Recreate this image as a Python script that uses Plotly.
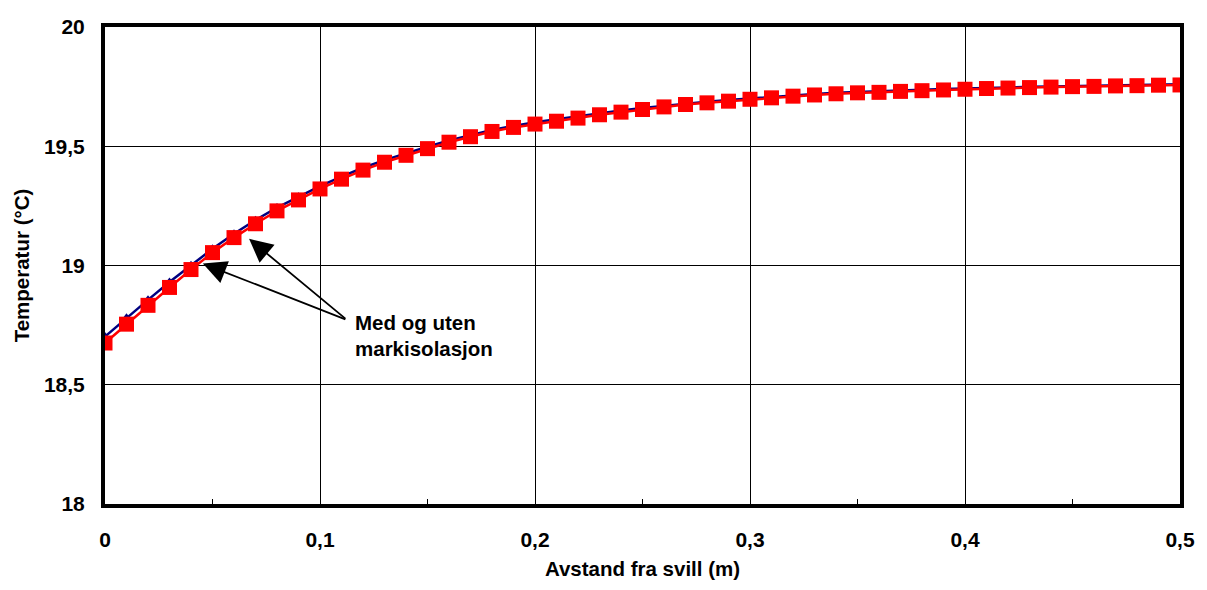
import plotly.graph_objects as go

x_vals = [round(i * 0.01, 2) for i in range(51)]

med_isolasjon = [18.702, 18.781, 18.856, 18.931, 19.001, 19.070, 19.133, 19.190, 19.243, 19.288,
                 19.333, 19.373, 19.410, 19.442, 19.471, 19.498, 19.524, 19.547, 19.568, 19.585,
                 19.601, 19.613, 19.626, 19.639, 19.650, 19.660, 19.670, 19.680, 19.687, 19.694,
                 19.701, 19.707, 19.714, 19.719, 19.724, 19.728, 19.730, 19.734, 19.737, 19.740,
                 19.743, 19.745, 19.747, 19.749, 19.751, 19.753, 19.754, 19.756, 19.757, 19.759,
                 19.760]

uten_isolasjon = [18.675, 18.754, 18.833, 18.908, 18.983, 19.054, 19.117, 19.175, 19.229, 19.275,
                  19.321, 19.362, 19.400, 19.433, 19.462, 19.490, 19.517, 19.540, 19.562, 19.579,
                  19.593, 19.605, 19.618, 19.632, 19.643, 19.654, 19.665, 19.675, 19.682, 19.689,
                  19.697, 19.703, 19.710, 19.715, 19.720, 19.724, 19.726, 19.730, 19.733, 19.736,
                  19.739, 19.742, 19.744, 19.746, 19.748, 19.750, 19.751, 19.753, 19.754, 19.756,
                  19.757]

x_ticks = [0, 0.1, 0.2, 0.3, 0.4, 0.5]
x_ticklabels = ["0", "0,1", "0,2", "0,3", "0,4", "0,5"]
y_ticks = [18, 18.5, 19, 19.5, 20]
y_ticklabels = ["18", "18,5", "19", "19,5", "20"]

annotation_lines = ["Med og uten", "markisolasjon"]

FONT = "Liberation Sans, Arial, sans-serif"

fig = go.Figure()
fig.add_trace(go.Scatter(
    x=x_vals, y=med_isolasjon, mode="lines+markers", name="Med isolasjon",
    line=dict(color="#000080", width=2.5),
    marker=dict(symbol="triangle-up", size=9, color="#000080"),
))
fig.add_trace(go.Scatter(
    x=x_vals, y=uten_isolasjon, mode="lines+markers", name="Uten isolasjon",
    line=dict(color="#FF0000", width=2.5),
    marker=dict(symbol="square", size=15, color="#FF0000"),
))

# white text box behind the label
fig.add_shape(type="rect", xref="x", yref="y", x0=0.1106, x1=0.2028, y0=18.5625, y1=18.842,
              fillcolor="white", line=dict(width=0), layer="below")

for line_text, ly in zip(annotation_lines, [18.762, 18.650]):
    fig.add_annotation(x=0.1152, y=ly, xref="x", yref="y", xanchor="left", yanchor="middle",
                       text=line_text, showarrow=False, align="left",
                       font=dict(family=FONT, size=20.5, color="black", weight="bold"))

for hx, hy in [(0.0455, 19.008), (0.0670, 19.112)]:
    fig.add_annotation(x=hx, y=hy, xref="x", yref="y", ax=0.1125, ay=18.772,
                       axref="x", ayref="y", text="", showarrow=True,
                       arrowhead=2, arrowsize=2.6, arrowwidth=1.8, arrowcolor="black", standoff=0)

fig.update_layout(
    width=1207, height=590,
    margin=dict(l=105, r=14, t=27, b=79),
    paper_bgcolor="white", plot_bgcolor="white",
    showlegend=False,
    font=dict(family=FONT, color="black"),
)
fig.update_xaxes(
    range=[0, 0.5], tickvals=x_ticks, ticktext=x_ticklabels,
    showgrid=True, gridcolor="black", gridwidth=1,
    showline=True, linecolor="black", linewidth=4, mirror=True,
    ticks="inside", ticklen=5, tickcolor="black",
    minor=dict(dtick=0.05, ticks="inside", ticklen=5, tickcolor="black", showgrid=False),
    tickfont=dict(family=FONT, size=21, weight="bold"),
    ticklabelstandoff=14,
    title=dict(text="Avstand fra svill (m)", font=dict(family=FONT, size=20.5, weight="bold"), standoff=12),
    zeroline=False,
)
fig.update_yaxes(
    range=[18, 20], tickvals=y_ticks, ticktext=y_ticklabels,
    showgrid=True, gridcolor="black", gridwidth=1,
    showline=True, linecolor="black", linewidth=4, mirror=True,
    ticks="", tickfont=dict(family=FONT, size=21, weight="bold"),
    ticklabelstandoff=12,
    title=dict(text="Temperatur (°C)", font=dict(family=FONT, size=20.5, weight="bold"), standoff=10),
    zeroline=False,
)

fig.write_html("out.html", config={"displayModeBar": False},
               post_script="document.body.style.margin='0';document.body.style.overflow='hidden';")
